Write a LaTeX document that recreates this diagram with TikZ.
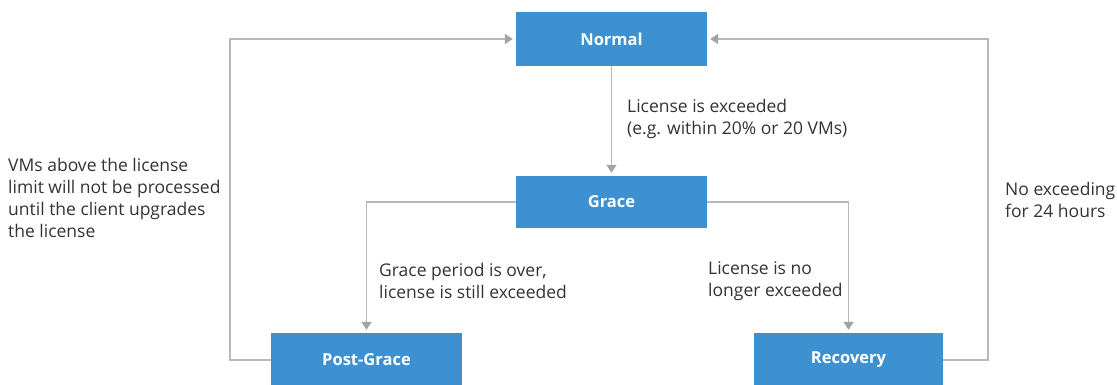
\documentclass[tikz,border=0pt]{standalone}
\usepackage{fontspec}
\setmainfont{Open Sans}
\usetikzlibrary{arrows.meta}
\definecolor{boxblue}{HTML}{3D91D1}
\definecolor{linegray}{HTML}{B8B8B8}
\definecolor{tipgray}{HTML}{A3A3A3}
\definecolor{txtgray}{HTML}{333333}
\begin{document}
\begin{tikzpicture}[x=1pt,y=-1pt,
  state/.style={fill=boxblue, text=white, font=\fontsize{16.5}{18}\selectfont\bfseries, minimum width=191pt, minimum height=54pt, inner sep=0pt},
  conn/.style={draw=linegray, line width=1.5pt},
  arr/.style={conn, -{Triangle[width=10pt,length=8pt,color=tipgray]}, shorten >=3pt},
  lbl/.style={text=txtgray, font=\fontsize{17.5}{22}\selectfont, align=left, anchor=west, inner sep=0pt}]
\useasboundingbox (0,0) rectangle (1117,385);
\clip (0,0) rectangle (1117,385);
\node[state] (normal) at (611.5,39) {Normal};
\node[state, minimum height=52pt] (grace) at (611.5,202) {Grace};
\node[state] (post) at (366.5,360) {Post-Grace};
\node[state, minimum width=189pt] (rec) at (848.5,360) {Recovery};
\coordinate (lc) at (230,39);
\coordinate (rc) at (988,39);
\draw[arr] (normal) -- (grace);
\draw[arr] (grace.west) -| (post.north);
\draw[arr] (grace.east) -| (rec.north);
\draw[arr] (post.west) -| (lc) -- (normal.west);
\draw[arr] (rec.east) -| (rc) -- (normal.east);
\node[lbl] (t1) at (627,119) {License is exceeded\\(e.g. within 20\% or 20 VMs)};
\node[lbl] (t2) at (8,198) {VMs above the license\\limit will not be processed\\until the client upgrades\\the license};
\node[lbl] (t3) at (1005,200) {No exceeding\\for 24 hours};
\node[lbl] (t4) at (379,281) {Grace period is over,\\license is still exceeded};
\node[lbl] (t5) at (708,281) {License is no\\longer exceeded};
\end{tikzpicture}
\end{document}
